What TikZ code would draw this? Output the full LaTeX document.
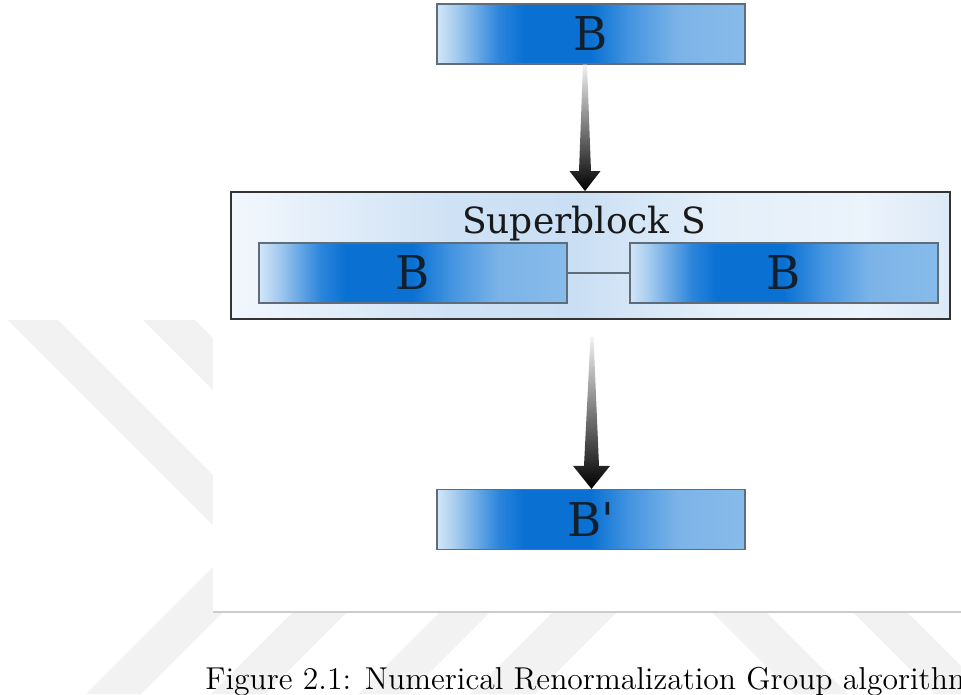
\documentclass[tikz,border=0pt]{standalone}
\usepackage{fontspec}
\usepackage{tikz}
\usetikzlibrary{calc,positioning}
\newfontfamily\blockfont{DejaVu Serif}
\newfontfamily\capfont{lmroman12-regular.otf}

\definecolor{bl0}{HTML}{D2E6F8}
\definecolor{bl1}{HTML}{A6CCEF}
\definecolor{bl2}{HTML}{2C85DB}
\definecolor{bl3}{HTML}{0A71D3}
\definecolor{bl4}{HTML}{4293E0}
\definecolor{bl5}{HTML}{7CB4E8}
\definecolor{bl6}{HTML}{87BBEA}
\definecolor{sb0}{HTML}{F2F7FD}
\definecolor{sb1}{HTML}{CFE2F5}
\definecolor{sb2}{HTML}{CADFF4}
\definecolor{sb3}{HTML}{E4EFF9}
\definecolor{sb4}{HTML}{EBF3FB}
\definecolor{sb5}{HTML}{DDE9F7}
\definecolor{edge}{HTML}{5F6D7A}
\definecolor{ink}{HTML}{10202E}
\definecolor{mark}{HTML}{F2F2F2}

\pgfdeclarehorizontalshading{blockshade}{100bp}{color(0bp)=(bl0); color(25bp)=(bl0);
  color(28bp)=(bl1); color(35bp)=(bl2); color(39bp)=(bl3); color(50bp)=(bl3);
  color(56bp)=(bl4); color(64bp)=(bl5); color(75bp)=(bl6); color(100bp)=(bl6)}
\pgfdeclarehorizontalshading{supershade}{100bp}{color(0bp)=(sb0); color(25bp)=(sb0);
  color(40bp)=(sb1); color(49bp)=(sb2); color(59bp)=(sb3); color(69bp)=(sb4);
  color(75bp)=(sb5); color(100bp)=(sb5)}

\begin{document}
\begin{tikzpicture}[x=0.02cm,y=-0.02cm]
  \tikzstyle{block} = [shading=blockshade,draw=edge,line width=0.7pt,minimum width=6.16cm,
    minimum height=1.2cm,inner sep=0pt,font=\blockfont\fontsize{26.5}{30}\selectfont,text=ink]
  \tikzstyle{superblock} = [shading=supershade,draw=black!80,line width=1.1pt,
    minimum width=14.38cm,minimum height=2.54cm,inner sep=0pt]
  \tikzstyle{sbtext} = [font=\blockfont\fontsize{20.5}{24}\selectfont,text=black!90,inner sep=0pt]
  \tikzstyle{fatarrow} = [top color=black!5,middle color=black,bottom color=black]
  \tikzstyle{band} = [fill=mark]
  \useasboundingbox (0,0) rectangle (961,694);
  \fill[white] (0,0) rectangle (961,694);
  \fill[band] (8,320) -- (58,320) -- (300,562) -- (250,562) -- cycle;
  \fill[band] (143,320) -- (195,320) -- (300,425) -- (248,425) -- cycle;
  \fill[band] (700,600) -- (754,600) -- (848,694) -- (794,694) -- cycle;
  \fill[band] (841,600) -- (895,600) -- (989,694) -- (935,694) -- cycle;
  \fill[band] (220,560) -- (275,560) -- (141,694) -- (86,694) -- cycle;
  \fill[band] (305,600) -- (359,600) -- (265,694) -- (211,694) -- cycle;
  \fill[band] (452,600) -- (502,600) -- (408,694) -- (358,694) -- cycle;
  \fill[band] (565,600) -- (629,600) -- (535,694) -- (471,694) -- cycle;
  \fill[white] (213,-5) rectangle (970,612);
  \draw[black!20,line width=0.6pt] (213,612) -- (961,612);
  \node (b_1) [block] at (591,34) {B};
  \node (s_1) [superblock] at (590.5,255.5) {};
  \node (l_1) [sbtext,anchor=base] at (584,233) {Superblock S};
  \node (b_2) [block] at (413,273) {B};
  \node (b_3) [block] at (784,273) {B};
  \node (b_4) [block] at (591,519.5) {B\textquotesingle};
  \draw[edge,line width=0.6pt] (b_2.east) -- (b_3.west);
  \coordinate (a_1) at ($(b_1.south)+(-6,0)$);
  \coordinate (t_1) at ($(s_1.north)+(-5.5,0)$);
  \coordinate (a_2) at ($(s_1.south)+(1.5,17)$);
  \coordinate (t_2) at ($(b_4.north)+(0.5,0)$);
  \shade[fatarrow] ($(a_1)+(-2,0)$) -- ($(a_1)+(2,0)$) -- ($(t_1)+(6,-20)$) -- ($(t_1)+(15.5,-20)$)
    -- (t_1) -- ($(t_1)+(-15.5,-20)$) -- ($(t_1)+(-6,-20)$) -- cycle;
  \shade[fatarrow] ($(a_2)+(-1.5,0)$) -- ($(a_2)+(1.5,0)$) -- ($(t_2)+(7.5,-23)$) -- ($(t_2)+(18.5,-23)$)
    -- (t_2) -- ($(t_2)+(-18.5,-23)$) -- ($(t_2)+(-7.5,-23)$) -- cycle;
  \node (c_1) [anchor=base west,inner sep=0pt,font=\capfont\fontsize{18}{22}\selectfont] at (205,689)
    {Figure 2.1: Numerical Renormalization Group algorithm};
\end{tikzpicture}
\end{document}
